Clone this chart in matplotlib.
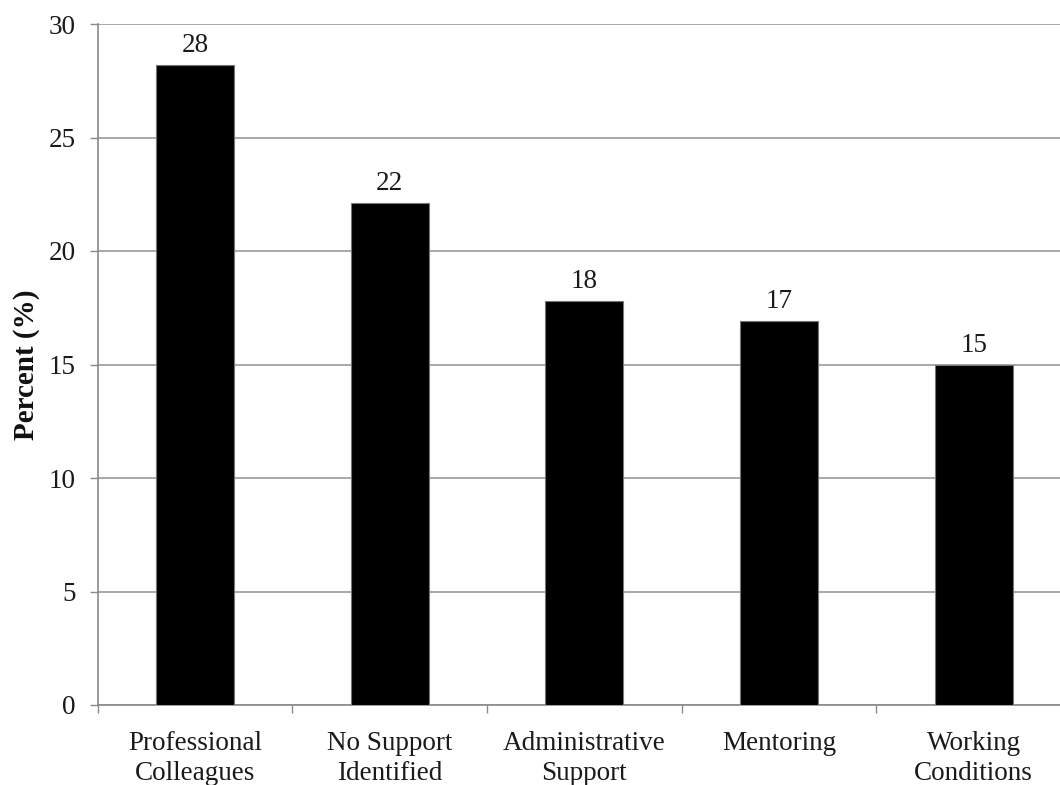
import matplotlib
matplotlib.use("Agg")
import matplotlib.pyplot as plt

# Sources of support reported (percent of respondents)
categories = ["Professional\nColleagues", "No Support\nIdentified",
              "Administrative\nSupport", "Mentoring", "Working\nConditions"]
percents = [28.2, 22.1, 17.8, 16.9, 15.0]
y_ticks = [0, 5, 10, 15, 20, 25, 30]

plt.rcParams["font.family"] = ["Liberation Serif", "DejaVu Serif"]

W, H = 1060, 785
fig = plt.figure(figsize=(W / 100, H / 100), dpi=100)
left, right, bottom, top = 97.7, 1071, 705, 24
ax = fig.add_axes([left / W, 1 - bottom / H, (right - left) / W, (bottom - top) / H])

x = list(range(len(categories)))
bars = ax.bar(x, percents, width=0.4, color="black", edgecolor="#777777",
              linewidth=0.8, zorder=3)

for rect, v in zip(bars, percents):
    ax.annotate(f"{v:.0f}", (rect.get_x() + rect.get_width() / 2, v),
                xytext=(0, 5), textcoords="offset points",
                ha="center", va="bottom", fontsize=19.5, color="#1a1a1a")

ax.set_xlim(-0.5, len(categories) - 0.5)
ax.set_ylim(0, 30)
ax.set_yticks(y_ticks)
ax.set_yticklabels([str(t) for t in y_ticks])
ax.yaxis.grid(True, color="#9a9a9a", linewidth=1.2, zorder=0)
ax.set_axisbelow(True)

# category labels centered under bars, ticks on category boundaries
ax.set_xticks(x)
ax.set_xticklabels(categories, fontsize=19.5, color="#1a1a1a", linespacing=1.25)
ax.tick_params(axis="x", which="major", length=0, pad=19)
ax.set_xticks([i - 0.5 for i in range(len(categories) + 1)], minor=True)
ax.tick_params(axis="x", which="minor", length=6, width=1.0, color="#8a8a8a")

ax.tick_params(axis="y", length=6, width=1.0, color="#8a8a8a",
               labelsize=19.5, labelcolor="#1a1a1a", pad=10)

for s in ["top", "right"]:
    ax.spines[s].set_visible(False)
for s in ["left", "bottom"]:
    ax.spines[s].set_color("#8a8a8a")
    ax.spines[s].set_linewidth(1.2)

ax.set_ylabel("Percent (%)", fontsize=21, fontweight="bold", color="#111111")
ax.yaxis.label.set_verticalalignment("center")
ax.yaxis.set_label_coords((27 - left) / (right - left), 0.5)

fig.savefig("out.png", dpi=100)
